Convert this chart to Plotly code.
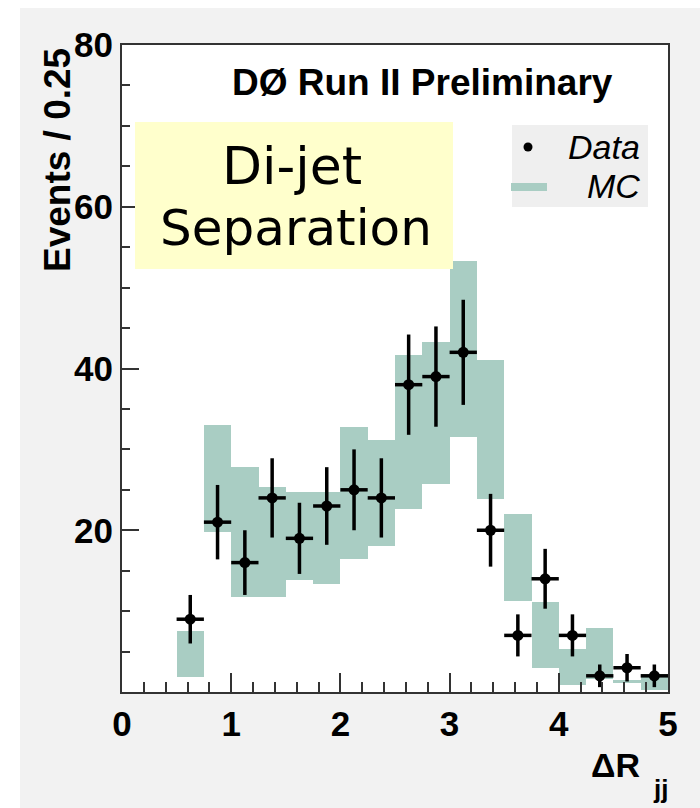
import plotly.graph_objects as go

# ---------------- data ----------------
bin_centers = [0.625, 0.875, 1.125, 1.375, 1.625, 1.875, 2.125, 2.375, 2.625,
               2.875, 3.125, 3.375, 3.625, 3.875, 4.125, 4.375, 4.625, 4.875]
data_counts = [9, 21, 16, 24, 19, 23, 25, 24, 38, 39, 42, 20, 7, 14, 7, 2, 3, 2]
data_err = [3.0, 4.6, 4.0, 4.9, 4.4, 4.8, 5.0, 4.9, 6.2, 6.2, 6.5, 4.5,
            2.6, 3.7, 2.6, 1.4, 1.7, 1.4]
mc_low = [1.9, 19.8, 11.7, 11.7, 13.8, 13.4, 16.4, 18.1, 22.6, 25.7, 31.5, 23.9,
          11.2, 3.0, 0.9, 1.6, 1.1, 0.2]
mc_high = [7.6, 33.0, 27.8, 25.3, 24.7, 24.7, 32.8, 31.2, 41.7, 43.3, 53.3, 41.0,
           22.0, 11.1, 5.3, 7.9, 1.5, 2.2]
bin_width = 0.25
x_tick_vals = [0, 1, 2, 3, 4, 5]
y_tick_vals = [20, 40, 60, 80]

MC_COLOR = "#a9cdc3"
FONT = "Liberation Sans"

# plot-area geometry in pixels (for placing decorations)
L, R, T, B = 122, 668, 45, 692
W, H = R - L, B - T


def px(xp, yp):
    return (xp - L) / W, (B - yp) / H


fig = go.Figure()

fig.add_trace(go.Bar(
    x=bin_centers,
    y=[h - l for h, l in zip(mc_high, mc_low)],
    base=mc_low,
    width=bin_width,
    marker=dict(color=MC_COLOR, line=dict(width=0)),
    name="MC",
    showlegend=False,
    hoverinfo="skip",
))

fig.add_trace(go.Scatter(
    x=bin_centers,
    y=data_counts,
    mode="markers",
    marker=dict(color="black", size=11, symbol="circle"),
    error_y=dict(type="data", array=data_err, visible=True,
                 color="black", thickness=3.5, width=0),
    error_x=dict(type="constant", value=bin_width / 2, visible=True,
                 color="black", thickness=3.5, width=0),
    name="Data",
    showlegend=False,
))

shapes = []
# white strips at left and top of the gray canvas
shapes.append(dict(type="rect", xref="paper", yref="paper",
                   x0=-0.4, x1=px(20, 0)[0], y0=-0.4, y1=1.3,
                   fillcolor="white", line=dict(width=0), layer="below"))
shapes.append(dict(type="rect", xref="paper", yref="paper",
                   x0=-0.4, x1=1.3, y0=px(0, 8)[1], y1=1.3,
                   fillcolor="white", line=dict(width=0), layer="below"))
# yellow label box
x0, y1 = px(135, 122)
x1, y0 = px(453, 269)
shapes.append(dict(type="rect", xref="paper", yref="paper",
                   x0=x0, x1=x1, y0=y0, y1=y1,
                   fillcolor="#ffffcc", line=dict(width=0), layer="above"))
# legend box
x0, y1 = px(512, 125)
x1, y0 = px(648, 207)
shapes.append(dict(type="rect", xref="paper", yref="paper",
                   x0=x0, x1=x1, y0=y0, y1=y1,
                   fillcolor="#efefef", line=dict(width=0), layer="above"))
# legend Data dot
cx, cy = px(528, 147)
rx, ry = 4.5 / W, 4.5 / H
shapes.append(dict(type="circle", xref="paper", yref="paper",
                   x0=cx - rx, x1=cx + rx, y0=cy - ry, y1=cy + ry,
                   fillcolor="black", line=dict(width=0), layer="above"))
# legend MC swatch
lx0, ly = px(511, 187)
lx1, _ = px(547, 187)
shapes.append(dict(type="rect", xref="paper", yref="paper",
                   x0=lx0, x1=lx1, y0=ly - 4 / H, y1=ly + 4 / H,
                   fillcolor=MC_COLOR, line=dict(width=0), layer="above"))

annotations = []


def ann(text, xp, yp, size, xanchor="center", yanchor="middle", bold=False,
        italic=False, family=FONT, angle=0):
    xx, yy = px(xp, yp)
    annotations.append(dict(
        text=text, x=xx, y=yy, xref="paper", yref="paper",
        xanchor=xanchor, yanchor=yanchor, showarrow=False, textangle=angle,
        font=dict(family=family, size=size, color="black",
                  weight="bold" if bold else "normal",
                  style="italic" if italic else "normal"),
    ))


ann("DØ Run II Preliminary", 422, 82, 37, bold=True)
ann("Di-jet", 292, 166, 52, family="DejaVu Sans")
ann("Separation", 296, 228, 50, family="DejaVu Sans")
ann("Data", 642, 147, 34, xanchor="right", italic=True)
ann("MC", 642, 186, 34, xanchor="right", italic=True)
ann("Events / 0.25", 57, 160, 37, bold=True, angle=-90)
ann("ΔR", 642, 765, 34, xanchor="right", bold=True)
ann("jj", 651, 789, 26, xanchor="left", bold=True)

fig.update_layout(
    width=700, height=808, autosize=False,
    margin=dict(l=L, r=700 - R, t=T, b=808 - B, pad=0),
    paper_bgcolor="#f2f2f2",
    plot_bgcolor="white",
    bargap=0,
    barmode="overlay",
    shapes=shapes,
    annotations=annotations,
    showlegend=False,
)

fig.update_xaxes(
    range=[0, 5], tickvals=x_tick_vals, ticks="inside", ticklen=19,
    tickwidth=2, tickcolor="#333", showline=True, linewidth=2,
    linecolor="#333", mirror=True, showgrid=False, zeroline=False,
    tickfont=dict(family=FONT, size=35, color="black", weight="bold"),
    minor=dict(ticks="inside", ticklen=10, tickwidth=2, tickcolor="#333",
               dtick=0.2, tick0=0, showgrid=False),
)
fig.update_yaxes(
    range=[0, 80], tickvals=y_tick_vals, ticks="inside", ticklen=17,
    tickwidth=2, tickcolor="#333", showline=True, linewidth=2,
    linecolor="#333", mirror=True, showgrid=False, zeroline=False,
    tickfont=dict(family=FONT, size=35, color="black", weight="bold"),
    minor=dict(ticks="inside", ticklen=8, tickwidth=2, tickcolor="#333",
               dtick=5, tick0=0, showgrid=False),
)

fig.write_html("out.html")
